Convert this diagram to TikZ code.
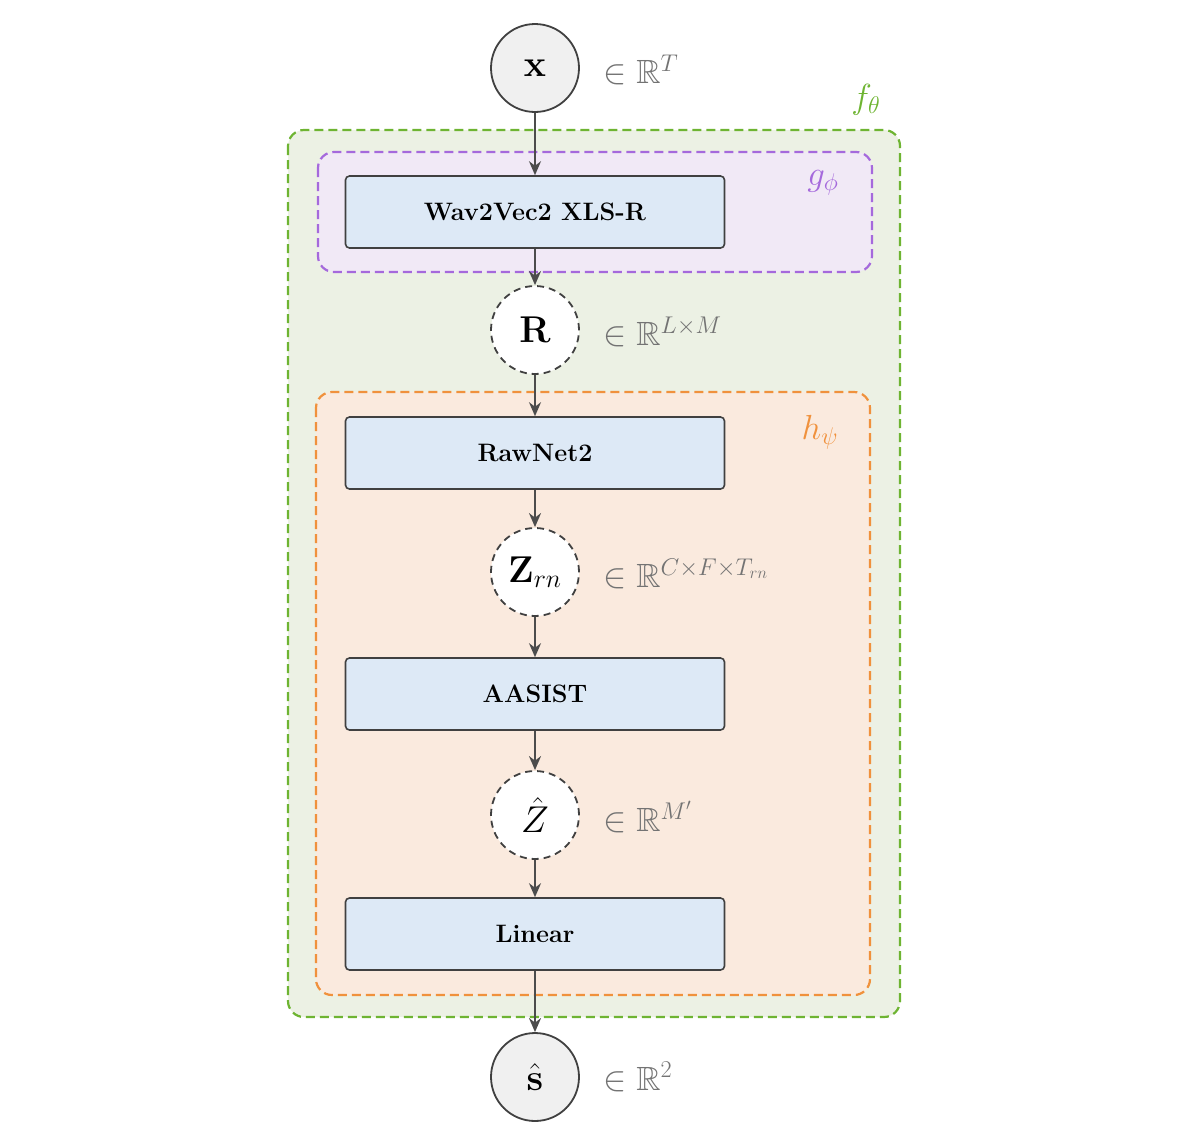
\documentclass[tikz,border=0pt]{standalone}
\usepackage{amsmath,amssymb,graphicx}
\usetikzlibrary{arrows.meta}
\newcommand{\myscl}[2]{\scalebox{#1}{#2}}
\begin{document}
\begin{tikzpicture}[x=1pt,y=-1pt,
  blk/.style={draw=black!75,line width=1.6pt,fill=bfill,rounded corners=4pt,minimum width=379pt,minimum height=72pt,font=\fontsize{24}{28}\selectfont\bfseries},
  var/.style={circle,draw=black!75,line width=1.8pt,minimum size=88pt,inner sep=0pt,font=\fontsize{24}{28}\selectfont},
  io/.style={var,fill=black!6},
  lat/.style={var,dashed,dash pattern=on 7pt off 5pt,fill=white},
  dim/.style={text=black!55,anchor=west,font=\fontsize{24}{28}\selectfont},
  arr/.style={-{Stealth[length=14pt,width=12pt]},draw=black!70,line width=2pt},
  grp/.style={dashed,dash pattern=on 9pt off 5pt,line width=2.2pt,rounded corners=16pt}]
\definecolor{bfill}{RGB}{221,233,246}
\definecolor{gfill}{RGB}{236,241,228}\definecolor{gline}{RGB}{110,180,50}
\definecolor{pfill}{RGB}{241,233,246}\definecolor{pline}{RGB}{165,105,220}
\definecolor{ofill}{RGB}{250,234,222}\definecolor{oline}{RGB}{240,145,60}
\useasboundingbox (0,0) rectangle (1200,1133);
\draw[grp,draw=gline,fill=gfill] (288,130) rectangle (900,1017);
\draw[grp,draw=pline,fill=pfill] (318,152) rectangle (872,272);
\draw[grp,draw=oline,fill=ofill] (316,392) rectangle (870,995);
\node[text=gline,font=\fontsize{24}{28}\selectfont] (f) at (866,100) {\myscl{1.4}{$f_\theta$}};
\node[text=pline,font=\fontsize{24}{28}\selectfont] (g) at (823,183) {\myscl{1.4}{$g_\phi$}};
\node[text=oline,font=\fontsize{24}{28}\selectfont] (h) at (820,432) {\myscl{1.4}{$h_\psi$}};
\node[io] (x) at (535,68) {\myscl{1.5}{$\mathbf{x}$}};
\node[blk] (w) at (535,212) {\myscl{1.05}{Wav2Vec2 XLS-R}};
\node[lat] (r) at (535,330) {\myscl{1.5}{$\mathbf{R}$}};
\node[blk] (rn) at (535,453) {\myscl{1.05}{RawNet2}};
\node[lat] (z) at (535,572) {\myscl{1.5}{$\mathbf{Z}_{rn}$}};
\node[blk] (aa) at (535,694) {\myscl{1.05}{AASIST}};
\node[lat] (zh) at (535,815) {\myscl{1.5}{$\hat{Z}$}};
\node[blk] (li) at (535,934) {\myscl{1.05}{Linear}};
\node[io] (s) at (535,1077) {\myscl{1.5}{$\hat{\mathbf{s}}$}};
\node[dim] (dx) at (600,70) {\myscl{1.4}{$\in\mathbb{R}^{T}$}};
\node[dim] (dr) at (600,332) {\myscl{1.4}{$\in\mathbb{R}^{L\times M}$}};
\node[dim] (dz) at (600,574) {\myscl{1.4}{$\in\mathbb{R}^{C\times F\times T_{rn}}$}};
\node[dim] (dzh) at (600,817) {\myscl{1.4}{$\in\mathbb{R}^{M'}$}};
\node[dim] (ds) at (600,1077) {\myscl{1.4}{$\in\mathbb{R}^{2}$}};
\draw[arr] (x) -- (w);
\draw[arr] (w) -- (r);
\draw[arr] (r) -- (rn);
\draw[arr] (rn) -- (z);
\draw[arr] (z) -- (aa);
\draw[arr] (aa) -- (zh);
\draw[arr] (zh) -- (li);
\draw[arr] (li) -- (s);
\end{tikzpicture}
\end{document}
